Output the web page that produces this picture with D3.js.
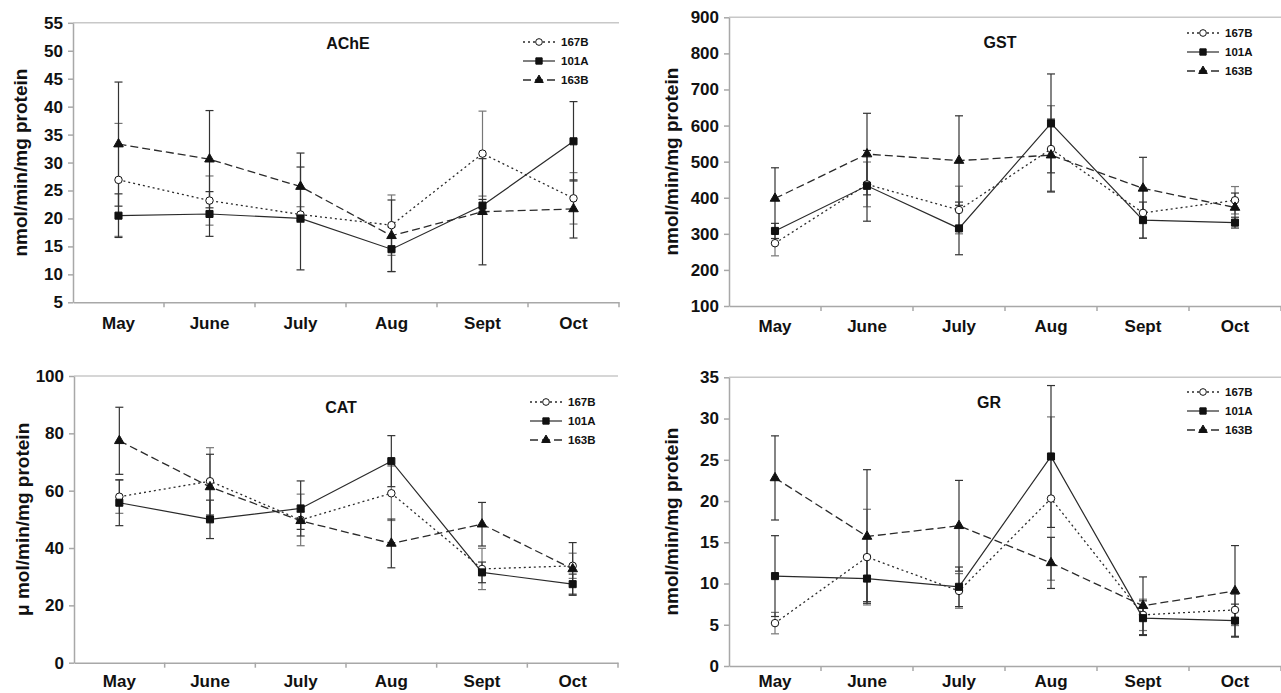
<!DOCTYPE html>
<html>
<head>
<meta charset="utf-8">
<script src="https://cdnjs.cloudflare.com/ajax/libs/d3/7.8.5/d3.min.js"></script>
<style>
  body { margin: 0; background: #fff; }
  svg text { font-family: "Liberation Sans", Arial, sans-serif; font-weight: bold; fill: #111; }
</style>
</head>
<body>
<div id="chart"></div>
<script>
var months = ['May', 'June', 'July', 'Aug', 'Sept', 'Oct'];
var stations = ['167B', '101A', '163B'];

//AChE
var acheTicks = [5, 10, 15, 20, 25, 30, 35, 40, 45, 50, 55];
var ache167B = [26.9, 23.2, 20.7, 18.8, 31.6, 23.6];
var ache167BErr = [10.1, 4.4, 1.4, 5.4, 7.6, 4.6];
var ache101A = [20.5, 20.8, 20.0, 14.5, 22.3, 33.8];
var ache101AErr = [3.9, 4.0, 9.2, 4.0, 1.1, 7.1];
var ache163B = [33.3, 30.6, 25.7, 16.9, 21.2, 21.7];
var ache163BErr = [11.1, 8.7, 6.0, 6.4, 9.5, 5.2];

//GST
var gstTicks = [100, 200, 300, 400, 500, 600, 700, 800, 900];
var gst167B = [274, 437, 366, 535, 358, 393];
var gst167BErr = [35, 62, 66, 120, 70, 38];
var gst101A = [308, 433, 315, 606, 338, 331];
var gst101AErr = [21, 98, 73, 137, 50, 15];
var gst163B = [398, 521, 503, 518, 426, 373];
var gst163BErr = [85, 113, 124, 100, 86, 40];

//CAT
var catTicks = [0, 20, 40, 60, 80, 100];
var cat167B = [57.9, 63.3, 49.8, 59.1, 32.7, 33.8];
var cat167BErr = [5.8, 11.7, 9.0, 9.5, 7.2, 4.4];
var cat101A = [55.8, 50.0, 53.8, 70.3, 31.5, 27.4];
var cat101AErr = [8.0, 6.7, 9.6, 8.9, 3.6, 3.5];
var cat163B = [77.4, 61.3, 49.5, 41.6, 48.3, 32.7];
var cat163BErr = [11.7, 11.4, 3.0, 8.5, 7.6, 9.2];

//GR
var grTicks = [0, 5, 10, 15, 20, 25, 30, 35];
var gr167B = [5.2, 13.2, 9.1, 20.3, 6.2, 6.8];
var gr167BErr = [1.3, 5.8, 2.1, 9.9, 1.9, 1.9];
var gr101A = [10.9, 10.6, 9.6, 25.4, 5.8, 5.5];
var gr101AErr = [4.9, 2.8, 2.4, 8.6, 2.1, 2.0];
var gr163B = [22.8, 15.7, 17.0, 12.5, 7.3, 9.1];
var gr163BErr = [5.1, 8.1, 5.5, 3.1, 3.5, 5.5];

(function() {
  'use strict';

  //line + marker look of each station, same order as stations
  var styles = [
    {dash: '2,3', width: 1.3, symbol: d3.symbolCircle, size: 44, fill: '#fff', err: '#777'},
    {dash: null, width: 1.2, symbol: d3.symbolSquare, size: 50, fill: '#111', err: '#333'},
    {dash: '8,4', width: 1.3, symbol: d3.symbolTriangle, size: 40, fill: '#111', err: '#333'}
  ];

  var panels = [
    {title: 'AChE', yLabel: 'nmol/min/mg protein', ticks: acheTicks,
     values: [ache167B, ache101A, ache163B], errs: [ache167BErr, ache101AErr, ache163BErr],
     left: 73, right: 619, top: 22.8, bottom: 302.3, titleX: 348, titleY: 43,
     legendX: 539, legendY: 42, yLabelX: 20, labelPad: 15},
    {title: 'GST', yLabel: 'nmol/min/mg protein', ticks: gstTicks,
     values: [gst167B, gst101A, gst163B], errs: [gst167BErr, gst101AErr, gst163BErr],
     left: 729, right: 1281, top: 17.3, bottom: 306, titleX: 1000, titleY: 42,
     legendX: 1203, legendY: 33, yLabelX: 671, labelPad: 14},
    {title: 'CAT', yLabel: '\u03bc mol/min/mg protein', ticks: catTicks,
     values: [cat167B, cat101A, cat163B], errs: [cat167BErr, cat101AErr, cat163BErr],
     left: 74, right: 618, top: 376, bottom: 662.7, titleX: 341, titleY: 407,
     legendX: 546, legendY: 402, yLabelX: 22, labelPad: 12},
    {title: 'GR', yLabel: 'nmol/min/mg protein', ticks: grTicks,
     values: [gr167B, gr101A, gr163B], errs: [gr167BErr, gr101AErr, gr163BErr],
     left: 729, right: 1281, top: 377.3, bottom: 666, titleX: 989, titleY: 402,
     legendX: 1203, legendY: 392, yLabelX: 671, labelPad: 9}
  ];

  var svg = d3.select('#chart').append('svg')
            .attr('width', 1281)
            .attr('height', 693)
            .style('display', 'block');

  panels.forEach(function(p) { drawPanel(svg.append('g'), p); });

  function drawPanel(g, p) {
    var x = d3.scaleBand().domain(months).range([p.left, p.right]);
    var y = d3.scaleLinear()
              .domain([p.ticks[0], p.ticks[p.ticks.length - 1]])
              .range([p.bottom, p.top]);
    var cx = function(i) { return x(months[i]) + x.bandwidth() / 2; };

    //top border of the plot area
    g.append('line')
      .attr('x1', p.left).attr('x2', p.right)
      .attr('y1', y(p.ticks[p.ticks.length - 1])).attr('y2', y(p.ticks[p.ticks.length - 1]))
      .attr('stroke', '#c8c8c8').attr('stroke-width', 1.5);

    //y axis
    var yAxis = g.append('g')
      .attr('transform', 'translate(' + p.left + ',0)')
      .call(d3.axisLeft(y).tickValues(p.ticks).tickSize(5).tickSizeOuter(0).tickPadding(5));
    yAxis.selectAll('text').style('font-size', '17px');

    //x axis, labels centred in each band, ticks on band edges like excel
    var xAxis = g.append('g')
      .attr('transform', 'translate(0,' + p.bottom + ')')
      .call(d3.axisBottom(x).tickSize(0).tickSizeOuter(0).tickPadding(p.labelPad));
    xAxis.selectAll('text').style('font-size', '17px');
    xAxis.selectAll('.edge')
      .data(months)
      .enter().append('line')
        .attr('class', 'edge')
        .attr('x1', function(d) { return x(d) + x.bandwidth(); })
        .attr('x2', function(d) { return x(d) + x.bandwidth(); })
        .attr('y1', 0).attr('y2', 5);

    [yAxis, xAxis].forEach(function(a) {
      a.selectAll('path, line').attr('stroke', '#a8a8a8').attr('stroke-width', 1.5);
    });

    //y axis title
    g.append('text')
      .attr('transform', 'translate(' + p.yLabelX + ',' + ((p.top + p.bottom) / 2) + ') rotate(-90)')
      .attr('text-anchor', 'middle')
      .attr('dominant-baseline', 'central')
      .style('font-size', '19px')
      .text(p.yLabel);

    //panel title
    g.append('text')
      .attr('x', p.titleX).attr('y', p.titleY)
      .attr('text-anchor', 'middle')
      .attr('dominant-baseline', 'central')
      .style('font-size', '16px')
      .text(p.title);

    //error bars first so the lines sit on top
    p.values.forEach(function(vals, s) {
      var errs = p.errs[s];
      var bars = g.append('g').attr('stroke', styles[s].err).attr('stroke-width', 1.2);
      bars.selectAll('.stem')
        .data(vals)
        .enter().append('line')
          .attr('x1', function(d, i) { return cx(i); })
          .attr('x2', function(d, i) { return cx(i); })
          .attr('y1', function(d, i) { return y(d - errs[i]); })
          .attr('y2', function(d, i) { return y(d + errs[i]); });
      [-1, 1].forEach(function(sign) {
        bars.selectAll('.cap' + sign)
          .data(vals)
          .enter().append('line')
            .attr('x1', function(d, i) { return cx(i) - 4; })
            .attr('x2', function(d, i) { return cx(i) + 4; })
            .attr('y1', function(d, i) { return y(d + sign * errs[i]); })
            .attr('y2', function(d, i) { return y(d + sign * errs[i]); });
      });
    });

    //lines and markers
    var line = d3.line()
      .x(function(d, i) { return cx(i); })
      .y(function(d) { return y(d); });

    p.values.forEach(function(vals, s) {
      var st = styles[s];
      g.append('path')
        .datum(vals)
        .attr('d', line)
        .attr('fill', 'none')
        .attr('stroke', '#2a2a2a')
        .attr('stroke-width', st.width)
        .attr('stroke-dasharray', st.dash);

      g.selectAll('.m' + s)
        .data(vals)
        .enter().append('path')
          .attr('class', 'm' + s)
          .attr('transform', function(d, i) { return 'translate(' + cx(i) + ',' + y(d) + ')'; })
          .attr('d', d3.symbol().type(st.symbol).size(st.size))
          .attr('fill', st.fill)
          .attr('stroke', '#111')
          .attr('stroke-width', 1);
    });

    //legend
    stations.forEach(function(name, s) {
      var st = styles[s];
      var ly = p.legendY + s * 19;
      g.append('line')
        .attr('x1', p.legendX - 16).attr('x2', p.legendX + 16)
        .attr('y1', ly).attr('y2', ly)
        .attr('stroke', '#2a2a2a')
        .attr('stroke-width', st.width)
        .attr('stroke-dasharray', st.dash);
      g.append('path')
        .attr('transform', 'translate(' + p.legendX + ',' + ly + ')')
        .attr('d', d3.symbol().type(st.symbol).size(st.size * 0.8))
        .attr('fill', st.fill)
        .attr('stroke', '#111');
      g.append('text')
        .attr('x', p.legendX + 22).attr('y', ly)
        .attr('dominant-baseline', 'central')
        .style('font-size', '11.5px')
        .text(name);
    });
  }
})();
</script>
</body>
</html>
